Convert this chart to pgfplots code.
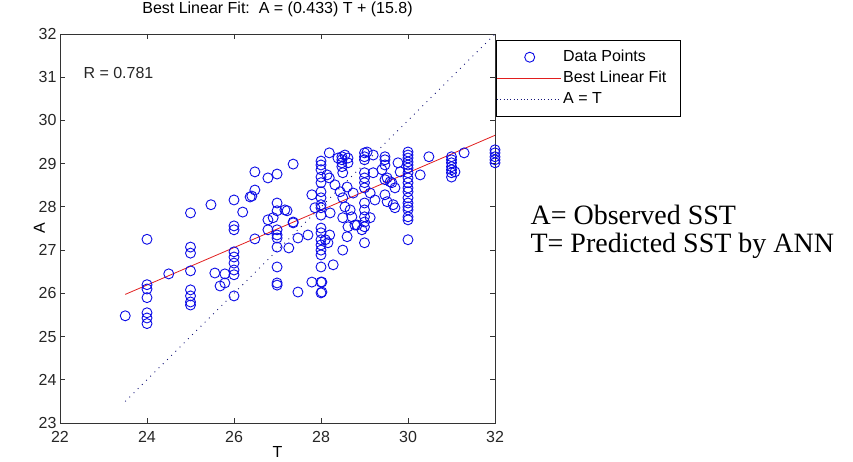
\documentclass[border=0pt]{standalone}
\usepackage{pgfplots}
\usepackage{pgfplotstable}
\pgfplotsset{compat=1.18}
\usepackage{fontspec}
\setmainfont{Liberation Sans}
\newfontfamily\annfont{Liberation Serif}
\definecolor{mblue}{RGB}{10,10,230}
\definecolor{mred}{RGB}{225,30,30}
\definecolor{mdot}{RGB}{20,20,120}

\pgfplotstableread{
T A
23.5 25.48
24 27.25
24 26.2
24 26.1
24 25.9
24 25.55
24 25.43
24 25.3
24.5 26.45
25 27.86
25 27.07
25 26.93
25 26.52
25 26.08
25 25.94
25 25.8
25 25.73
25.47 28.05
25.56 26.47
25.79 26.45
25.68 26.17
25.79 26.24
26 28.16
26 27.56
26 27.47
26 26.96
26 26.84
26 26.7
26 26.54
26 26.43
26 25.94
26.2 27.88
26.37 28.23
26.48 28.81
26.78 28.67
26.99 28.76
27.36 28.99
26.48 28.39
26.41 28.25
26.99 28.09
26.99 27.91
27.22 27.91
26.78 27.7
26.9 27.75
27.36 27.63
26.78 27.47
26.99 27.47
26.99 27.35
26.99 27.28
26.48 27.26
26.99 27.07
27.26 27.05
27.47 27.28
27.7 27.35
26.99 26.61
26.99 26.24
26.99 26.19
27.47 26.03
27.79 26.26
28 29.06
28 28.97
28 28.86
28 28.69
28 28.56
28 28.35
28 28.21
28 28.05
28 27.98
28 27.81
28 27.51
28 27.4
28 27.24
28 27.12
28 27.0
28 26.89
28 26.61
28 26.26
28 26.01
27.79 28.28
27.86 27.98
27.17 27.93
27.36 27.65
28.02 26.26
28.02 26.03
28.28 26.66
28.5 27.0
28.2 27.35
28.1 27.24
28.16 27.17
28.6 27.31
28.78 27.58
29 27.77
29 27.54
29 27.17
29.13 27.75
28.19 29.25
28.19 28.67
28.32 28.51
28.21 27.86
28.48 29.16
28.48 29.09
28.48 29.02
28.48 28.93
28.55 29.2
28.5 28.79
28.6 28.46
28.44 28.35
28.5 28.21
28.55 28.0
28.67 27.93
28.5 27.75
28.71 27.77
28.62 27.54
28.83 27.58
29 29.25
29 29.16
29 29.09
29 28.79
29 28.67
29 28.56
29 28.44
29 28.09
29 27.93
29 27.65
28.94 27.47
29.2 28.79
29.13 28.32
29.24 28.16
29.47 29.16
29.47 29.09
29.47 28.97
29.47 28.63
29.47 28.28
29.4 28.86
29.52 28.67
29.52 28.12
29.63 28.56
29.59 28.58
29.7 28.44
29.7 27.98
29.66 28.05
29.77 29.02
29.82 28.81
28.14 28.74
28.74 28.32
28.62 29.13
28.62 29.02
28.39 29.13
29.06 29.27
29.2 29.2
30 29.27
30 29.2
30 29.13
30 29.04
30 28.97
30 28.9
30 28.79
30 28.67
30 28.56
30 28.44
30 28.35
30 28.21
30 28.09
30 28.0
30 27.93
30 27.77
30 27.7
30 27.24
30.48 29.16
30.28 28.74
31 29.16
31 29.09
31 29.02
31 28.93
31 28.86
31 28.79
31 28.69
31.08 28.81
31.29 29.25
32 29.32
32 29.25
32 29.16
32 29.09
32 29.02
}\datatable

\begin{document}
\begin{tikzpicture}
\path[use as bounding box] (0,0) rectangle (853pt,462pt);
\begin{axis}[
  at={(60pt,39pt)}, anchor=south west,
  scale only axis, width=435pt, height=389pt,
  xmin=22, xmax=32, ymin=23, ymax=32,
  xtick={22,24,...,32}, ytick={23,24,...,32},
  /pgf/number format/assume math mode=true,
  ticklabel style={font=\fontsize{16}{18}\selectfont, text=black!85},
  xticklabel style={anchor=base, yshift=-20pt},
  xlabel={T}, ylabel={A},
  xlabel style={at={(axis description cs:0.5,0)}, anchor=base, yshift=-35pt, font=\fontsize{16}{18}\selectfont},
  ylabel style={at={(axis description cs:-0.035,0.5)}, anchor=base, font=\fontsize{16}{18}\selectfont},
  title={Best Linear Fit:\ \ A = (0.433) T + (15.8)},
  title style={at={(axis description cs:0.5,1)}, anchor=base, yshift=14pt, font=\fontsize{16}{18}\selectfont},
  axis line style={line width=0.8pt, black!80},
  tick style={line width=0.8pt, black!80},
  major tick length=5pt,
  clip=false,
  legend cell align=left,
  legend style={at={(1.002,0.985)}, anchor=north west, draw=black, line width=0.8pt,
    font=\fontsize{16}{18}\selectfont, inner xsep=0pt, inner ysep=9pt, row sep=5pt,
    nodes={inner xsep=2pt, inner ysep=1pt, text height=11pt, text depth=3pt},
    /tikz/every odd column/.append style={column sep=0pt}},
]
\addplot[only marks, mark=o, mark size=5pt, mblue, mark options={line width=0.9pt},
  legend image code/.code={\draw[mblue, mark repeat=2,mark phase=2] plot coordinates {(0pt,0pt) (33pt,0pt) (66pt,0pt)};}]
  table[x=T,y=A] {\datatable};
\addlegendentry{Data Points}
\addplot[mred, line width=0.8pt,
  legend image code/.code={\draw[mred, line width=0.8pt] (0pt,0pt) -- (64pt,0pt);}]
  coordinates {(23.5,25.9755) (32,29.656)};
\addlegendentry{Best Linear Fit\kern12pt}
\addplot[mdot, line width=0.9pt, dash pattern=on 0.9pt off 5pt,
  legend image code/.code={\draw[mdot, line width=0.9pt, dash pattern=on 0.9pt off 2.5pt] (0pt,0pt) -- (64pt,0pt);}]
  coordinates {(23.5,23.5) (32,32)};
\addlegendentry{A = T}
\node[anchor=base west, font=\fontsize{16}{18}\selectfont, text=black!85] at (axis cs:22.46,30.96) {R = 0.781};
\end{axis}
\node[anchor=base west, font=\annfont\fontsize{28}{30}\selectfont] at (527pt,237pt) {A= Observed SST};
\node[anchor=base west, font=\annfont\fontsize{28}{30}\selectfont] at (527pt,209pt) {T= Predicted SST by ANN};
\end{tikzpicture}
\end{document}
